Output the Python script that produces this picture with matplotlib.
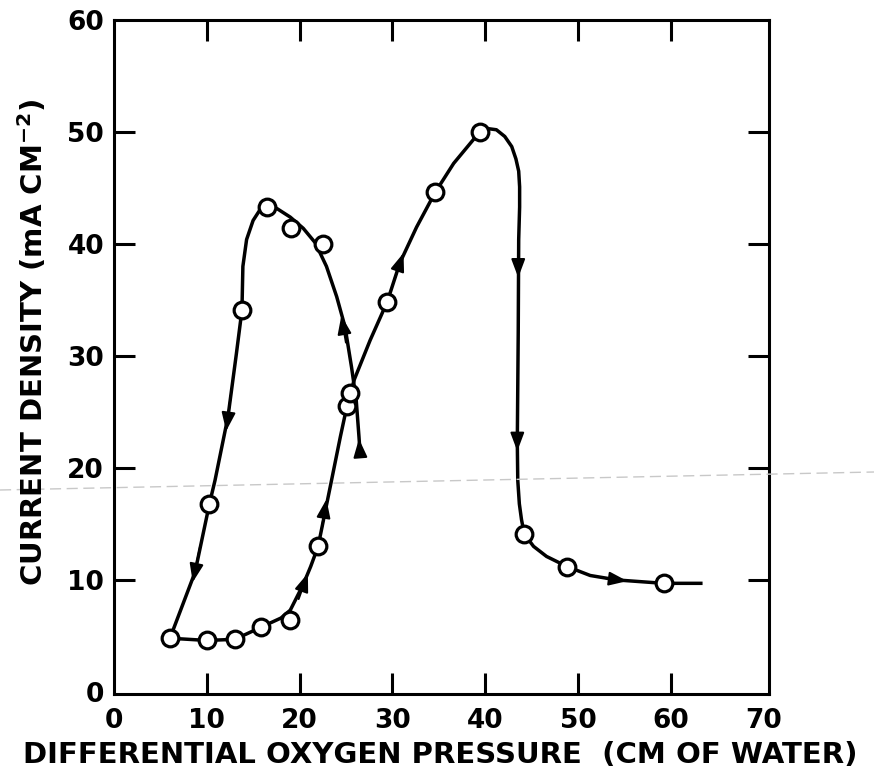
import numpy as np
import matplotlib
matplotlib.use("Agg")
import matplotlib.pyplot as plt
from matplotlib.lines import Line2D

# measured circles, increasing pressure (lower / right branch)
up_x = [6.05, 10.0, 13.05, 15.9, 19.0, 22.0, 25.1, 29.45, 34.6, 39.4, 44.2, 48.8, 59.2]
up_y = [4.8, 4.6, 4.7, 5.8, 6.4, 13.0, 25.5, 34.85, 44.6, 50.0, 14.1, 11.2, 9.7]

# measured circles, decreasing pressure (left loop)
down_x = [25.4, 22.5, 19.1, 16.5, 13.8, 10.3]
down_y = [26.7, 40.0, 41.4, 43.3, 34.1, 16.8]

# hand drawn curves
up_curve_x = [6.05, 10.0, 13.05, 15.9, 18.0, 19.0, 20.4, 21.2, 22.0, 23.3, 24.4, 25.1, 25.9,
              27.6, 29.45, 30.8, 32.6, 34.6, 36.6, 39.4, 40.3, 41.2, 42.1, 42.85, 43.3,
              43.6, 43.7, 43.7, 43.6, 43.55, 43.45, 43.5, 43.67, 43.9, 44.2, 45.2, 46.6,
              48.8, 51.3, 54.2, 59.2, 63.4]
up_curve_y = [4.8, 4.6, 4.7, 5.8, 6.6, 7.3, 9.6, 11.2, 13.0, 18.3, 22.8, 25.5, 27.9,
              31.4, 34.85, 38.3, 41.5, 44.6, 47.2, 50.0, 50.3, 50.2, 49.6, 48.7, 47.6,
              46.5, 45.1, 43.3, 40.4, 32.1, 22.3, 18.9, 16.8, 15.4, 14.1, 13.0, 12.1,
              11.2, 10.4, 10.0, 9.7, 9.7]

down_curve_x = [26.5, 26.4, 26.1, 25.6, 24.9, 24.0, 22.9, 21.7, 20.4, 19.0, 17.5, 16.5,
                15.7, 15.0, 14.3, 13.9, 13.8, 13.2, 12.3, 10.9, 10.3, 8.75, 6.05]
down_curve_y = [21.6, 22.8, 26.1, 29.0, 32.6, 35.3, 38.0, 40.1, 41.4, 42.4, 43.2, 43.5,
                43.0, 42.1, 40.4, 38.0, 34.1, 30.2, 24.6, 18.9, 16.8, 10.7, 4.8]

# arrowheads on the curves: (tail, tip)
arrows = [((19.9, 8.3), (20.9, 10.6)),
          ((22.4, 14.6), (22.9, 17.2)),
          ((30.2, 36.8), (31.2, 39.2)),
          ((43.55, 40.0), (43.55, 37.0)),
          ((43.45, 24.0), (43.45, 21.5)),
          ((53.0, 10.15), (55.3, 9.9)),
          ((25.0, 31.2), (24.5, 33.6)),
          ((26.55, 21.0), (26.4, 22.6)),
          ((12.6, 26.5), (12.1, 23.3)),
          ((9.3, 13.0), (8.5, 9.8))]

xticks = [0, 10, 20, 30, 40, 50, 60, 70]
yticks = [0, 10, 20, 30, 40, 50, 60]

plt.rcParams['font.family'] = ['DejaVu Sans']
plt.rcParams['font.weight'] = 'bold'
plt.rcParams['mathtext.default'] = 'regular'

fig = plt.figure(figsize=(8.74, 7.74), dpi=100)
W, H = 874, 774
ax = fig.add_axes([113.8 / W, (H - 694.2) / H, (768.5 - 113.8) / W, (694.2 - 20) / H])

# faint scan line across the page
fig.add_artist(Line2D([0, 1], [1 - 490 / H, 1 - 472 / H], transform=fig.transFigure,
                      color='#c8c8c8', lw=1.0, ls=(0, (8, 4))))

ax.plot(up_curve_x, up_curve_y, color='black', lw=2.5, solid_capstyle='butt',
        solid_joinstyle='round', zorder=2)
ax.plot(down_curve_x, down_curve_y, color='black', lw=2.5, solid_capstyle='butt',
        solid_joinstyle='round', zorder=2)

for tail, tip in arrows:
    ax.annotate('', xy=tip, xytext=tail,
                arrowprops=dict(arrowstyle='-|>,head_length=0.8,head_width=0.3',
                                mutation_scale=14, color='black', lw=1.5,
                                shrinkA=0, shrinkB=0), zorder=3)

ax.plot(up_x, up_y, 'o', ms=12, mfc='white', mec='black', mew=2.3, zorder=4)
ax.plot(down_x, down_y, 'o', ms=12, mfc='white', mec='black', mew=2.3, zorder=4)

ax.set_xlim(0, 70.5)
ax.set_ylim(-0.2, 60)
ax.set_xticks(xticks)
ax.set_yticks(yticks)
ax.set_xticklabels([str(v) for v in xticks])
ax.set_yticklabels([str(v) for v in yticks])

for s in ax.spines.values():
    s.set_linewidth(2.2)

ax.tick_params(direction='in', length=15, width=2.2, top=True, right=True,
               labelsize=19, pad=7)
ax.tick_params(axis='x', pad=10)

# no tick marks at the corners of the frame
for t in [ax.xaxis.get_major_ticks()[0], ax.xaxis.get_major_ticks()[-1],
          ax.yaxis.get_major_ticks()[0], ax.yaxis.get_major_ticks()[-1]]:
    t.tick1line.set_visible(False)
    t.tick2line.set_visible(False)

fig.text(440 / W, 1 - 755 / H, 'DIFFERENTIAL OXYGEN PRESSURE  (CM OF WATER)',
         ha='center', va='center', fontsize=21, fontweight='bold')
fig.text(33 / W, 1 - 342 / H, 'CURRENT DENSITY (mA CM$^{-2}$)',
         ha='center', va='center', rotation=90, fontsize=21, fontweight='bold')

fig.savefig('out.png', dpi=100, facecolor='white')
